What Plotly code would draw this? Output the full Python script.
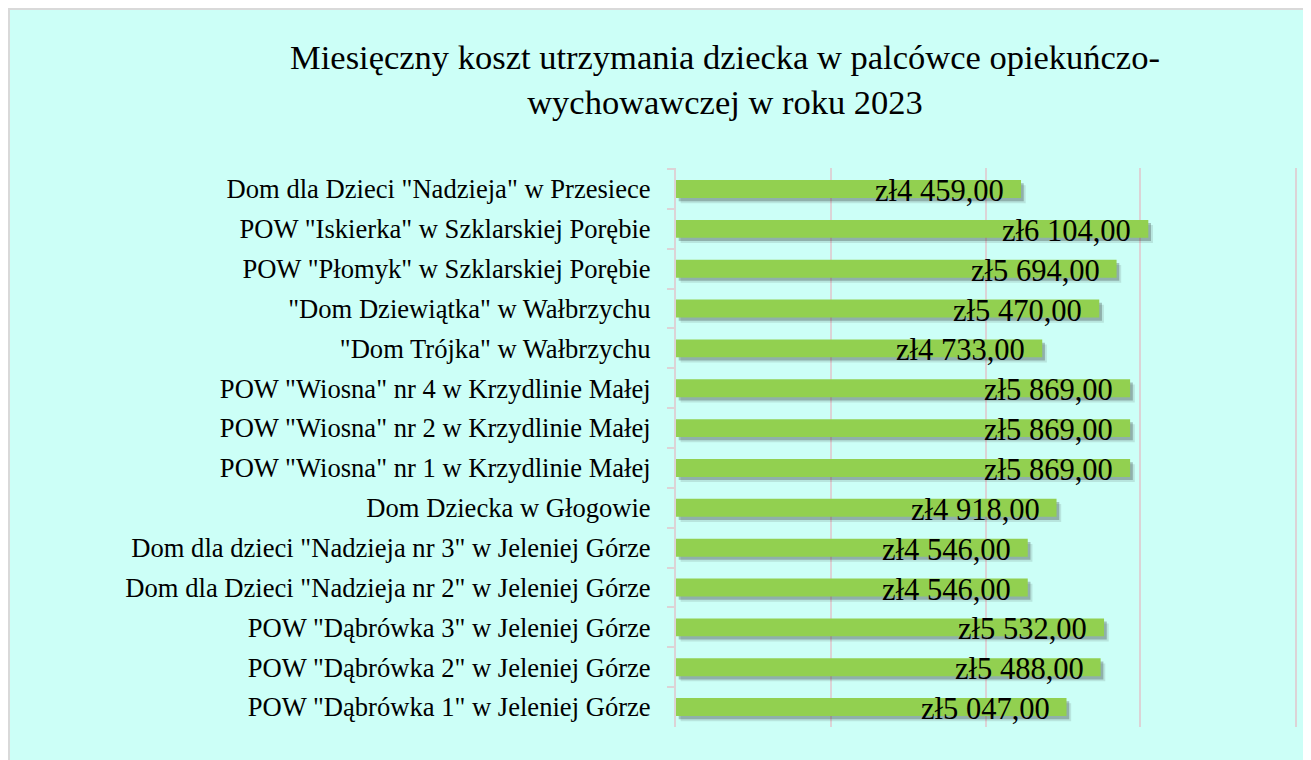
import plotly.graph_objects as go

categories = [
    'Dom dla Dzieci "Nadzieja" w Przesiece',
    'POW "Iskierka" w Szklarskiej Porębie',
    'POW "Płomyk" w Szklarskiej Porębie',
    '"Dom Dziewiątka" w Wałbrzychu',
    '"Dom Trójka" w Wałbrzychu',
    'POW "Wiosna" nr 4 w Krzydlinie Małej',
    'POW "Wiosna" nr 2 w Krzydlinie Małej',
    'POW "Wiosna" nr 1 w Krzydlinie Małej',
    'Dom Dziecka w Głogowie',
    'Dom dla dzieci "Nadzieja nr 3" w Jeleniej Górze',
    'Dom dla Dzieci "Nadzieja nr 2" w Jeleniej Górze',
    'POW "Dąbrówka 3" w Jeleniej Górze',
    'POW "Dąbrówka 2" w Jeleniej Górze',
    'POW "Dąbrówka 1" w Jeleniej Górze',
]
values = [4459, 6104, 5694, 5470, 4733, 5869, 5869, 5869, 4918, 4546, 4546, 5532, 5488, 5047]
x_ticks = [0, 2000, 4000, 6000, 8000]
title_text = "Miesięczny koszt utrzymania dziecka w palcówce opiekuńczo-<br>wychowawczej w roku 2023"


def fmt(v):
    s = f"{v:,.2f}".replace(",", " ").replace(".", ",")
    return "zł" + s


labels = [fmt(v) for v in values]

FONT = "Liberation Serif"
BAR_W = 0.45
GRID = "#DCD3D6"

# plot area in figure pixels
L, T, PW, PH = 668, 160, 619, 559
W, H = 1303, 760

fig = go.Figure()
# soft shadow layers
fig.add_trace(go.Bar(
    y=categories, x=values, base=[60] * len(values), orientation="h",
    width=BAR_W, offset=-BAR_W / 2 + 0.13,
    marker=dict(color="rgba(40,40,40,0.12)", line=dict(width=0)),
    hoverinfo="skip", showlegend=False,
))
fig.add_trace(go.Bar(
    y=categories, x=values, base=[35] * len(values), orientation="h",
    width=BAR_W, offset=-BAR_W / 2 + 0.08,
    marker=dict(color="rgba(40,40,40,0.28)", line=dict(width=0)),
    hoverinfo="skip", showlegend=False,
))
fig.add_trace(go.Bar(
    y=categories, x=values, orientation="h",
    width=BAR_W, offset=-BAR_W / 2,
    marker=dict(color="#92D050", line=dict(width=0)),
    showlegend=False,
))

for c, v, t in zip(categories, values, labels):
    fig.add_annotation(
        x=v, y=c, xref="x", yref="y", text=t, showarrow=False,
        xanchor="right", yanchor="middle", xshift=-15, yshift=-2,
        font=dict(family=FONT, size=30.5, color="#000000"),
    )

fig.update_layout(
    width=W, height=H,
    margin=dict(l=L, r=W - L - PW, t=T, b=H - T - PH),
    paper_bgcolor="#CCFFF7",
    plot_bgcolor="rgba(0,0,0,0)",
    barmode="overlay",
    title=dict(
        text=title_text, x=717 / W, xanchor="center", xref="container",
        y=1 - 61 / H, yanchor="top", yref="container",
        font=dict(family=FONT, size=34.5, color="#000000"),
    ),
    font=dict(family=FONT, color="#000000"),
    xaxis=dict(
        range=[0, 8000], tickvals=x_ticks, showticklabels=False,
        showgrid=True, gridcolor=GRID, gridwidth=2,
        zeroline=False, showline=False, ticks="",
    ),
    yaxis=dict(
        categoryorder="array", categoryarray=categories,
        autorange="reversed",
        showline=True, linecolor=GRID, linewidth=2, mirror=True,
        ticks="outside", tickson="boundaries", ticklen=7, tickwidth=2,
        tickcolor=GRID,
        tickfont=dict(family=FONT, size=26.6, color="#000000"),
        ticklabelstandoff=18,
        showgrid=False, zeroline=False,
    ),
    shapes=[dict(
        type="rect", xref="paper", yref="paper",
        x0=(1 - L) / PW, x1=(W + 30 - L) / PW,
        y0=(T + PH - (H + 30)) / PH, y1=(T + PH - 1) / PH,
        fillcolor="rgba(0,0,0,0)", line=dict(color="#D9D9D9", width=2),
        layer="below",
    )],
)

fig.write_html(
    "out.html",
    post_script="document.documentElement.style.overflow='hidden';document.body.style.overflow='hidden';",
)
